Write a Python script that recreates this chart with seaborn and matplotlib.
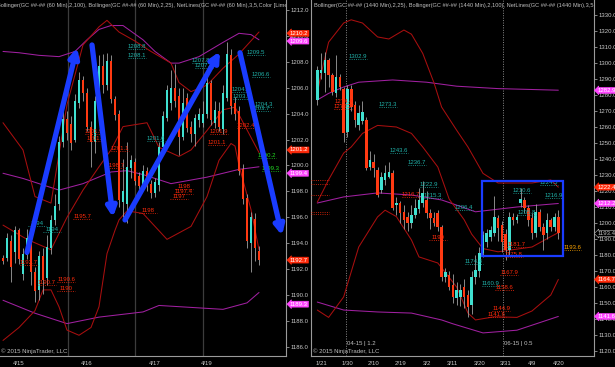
import matplotlib
matplotlib.use("Agg")
import matplotlib.pyplot as plt
from matplotlib.patches import Rectangle
import matplotlib.transforms as mtransforms
import seaborn as sns
import numpy as np

# ---------------- data: 60 min chart (left) ----------------
l_open = [1192.9, 1192.9, 1194.2, 1193.3, 1195.0, 1191.6, 1193.1, 1194.3, 1191.8, 1190.4,
          1193.0, 1191.3, 1193.6, 1195.8, 1197.0, 1201.8, 1203.6, 1203.2, 1202.0, 1204.8,
          1206.6, 1205.6, 1203.0, 1201.8, 1204.8, 1207.7, 1206.2, 1208.1, 1205.1, 1204.0,
          1197.2, 1197.0, 1199.8, 1200.3, 1199.2, 1198.5, 1199.6, 1198.6, 1197.9, 1198.5,
          1201.4, 1203.7, 1204.8, 1206.0, 1205.4, 1202.2, 1205.2, 1203.0, 1202.4, 1203.5,
          1203.3, 1204.0, 1206.4, 1203.3, 1204.2, 1202.8, 1205.2, 1208.5, 1204.8, 1204.2,
          1199.7, 1197.5, 1194.0, 1195.9, 1193.4]
l_high = [1193.1, 1194.8, 1194.6, 1195.3, 1195.2, 1193.6, 1195.1, 1194.6, 1192.2, 1193.4,
          1193.6, 1194.6, 1196.2, 1197.8, 1202.3, 1205.0, 1204.2, 1203.8, 1205.5, 1207.2,
          1206.9, 1206.0, 1203.4, 1205.4, 1208.5, 1208.6, 1208.7, 1208.5, 1205.4, 1204.3,
          1200.5, 1201.8, 1200.8, 1200.6, 1199.5, 1200.0, 1199.9, 1198.9, 1199.0, 1201.8,
          1204.2, 1206.2, 1207.4, 1207.8, 1206.0, 1206.0, 1205.6, 1203.4, 1204.0, 1204.4,
          1205.0, 1206.8, 1206.6, 1205.0, 1204.9, 1206.2, 1209.5, 1209.0, 1205.3, 1204.6,
          1200.1, 1197.8, 1196.4, 1196.3, 1193.8]
l_low = [1192.4, 1192.6, 1191.0, 1192.5, 1192.4, 1191.2, 1192.8, 1190.8, 1189.5, 1189.6,
         1190.1, 1190.8, 1193.2, 1195.4, 1196.6, 1201.4, 1202.0, 1201.2, 1201.8, 1204.4,
         1205.0, 1202.7, 1199.9, 1201.0, 1204.5, 1205.6, 1205.8, 1204.8, 1203.5, 1196.8,
         1196.0, 1195.6, 1199.0, 1198.5, 1198.0, 1198.2, 1198.0, 1197.5, 1197.6, 1198.0,
         1201.0, 1203.4, 1204.3, 1204.5, 1200.8, 1202.0, 1202.6, 1201.8, 1201.5, 1203.0,
         1203.0, 1203.7, 1203.1, 1202.9, 1202.7, 1202.4, 1205.0, 1204.0, 1203.5, 1199.3,
         1197.0, 1193.6, 1191.8, 1192.6, 1192.3]
l_close = [1192.6, 1194.4, 1192.2, 1195.0, 1192.8, 1193.2, 1194.4, 1191.8, 1190.3, 1193.0,
           1191.2, 1193.7, 1195.8, 1196.9, 1201.8, 1203.6, 1202.5, 1201.7, 1205.0, 1206.6,
           1205.6, 1203.0, 1201.8, 1205.0, 1207.7, 1206.2, 1208.1, 1205.1, 1203.9, 1197.3,
           1198.0, 1199.9, 1200.4, 1198.8, 1198.4, 1199.6, 1198.4, 1197.9, 1198.7, 1201.4,
           1203.8, 1205.8, 1206.0, 1205.0, 1202.2, 1204.8, 1202.9, 1202.4, 1203.7, 1204.0,
           1204.0, 1206.4, 1203.5, 1204.3, 1203.0, 1205.6, 1208.6, 1204.6, 1204.0, 1199.6,
           1197.4, 1194.2, 1196.0, 1193.6, 1192.7]

# bollinger lines, sampled at bar numbers
l_bb25_up_x = [0, 5, 8, 12, 16, 20, 24, 26, 29, 33, 37, 42, 44, 47, 51, 55, 59, 64]
l_bb25_up = [1203.3, 1201.2, 1197.6, 1197.1, 1204.7, 1209.3, 1210.7, 1211.2, 1210.3, 1209.6,
             1208.8, 1207.9, 1206.4, 1205.7, 1206.2, 1207.5, 1208.6, 1210.3]
l_bb25_mid_x = [0, 6, 12, 16, 20, 24, 27, 30, 36, 39, 44, 47, 51, 55, 58, 64]
l_bb25_mid = [1195.4, 1194.3, 1193.5, 1196.0, 1198.1, 1199.9, 1201.2, 1203.0, 1203.3, 1201.4,
              1200.7, 1201.2, 1202.7, 1204.3, 1204.5, 1201.0]
l_bb25_lo_x = [0, 4, 8, 10, 12, 14, 16, 19, 22, 24, 26, 28, 29, 31, 35, 41, 47, 51, 54, 57, 58, 59, 62, 64]
l_bb25_lo = [1186.5, 1187.5, 1188.8, 1190.4, 1190.4, 1189.1, 1187.3, 1186.9, 1187.5, 1189.1,
             1193.2, 1195.0, 1195.8, 1196.5, 1196.3, 1194.3, 1195.3, 1197.6, 1200.4, 1201.7,
             1201.5, 1200.0, 1196.6, 1193.5]
l_bb100_up_x = [0, 4, 9, 14, 18, 21, 24, 27, 30, 35, 38, 42, 44, 49, 55, 59, 62, 64]
l_bb100_up = [1208.8, 1208.7, 1208.5, 1208.4, 1208.8, 1209.7, 1210.5, 1210.8, 1210.8, 1209.7,
              1208.8, 1207.9, 1207.9, 1208.4, 1209.5, 1210.2, 1210.1, 1209.7]
l_bb100_mid_x = [0, 5, 14, 20, 27, 31, 35, 42, 51, 59, 64]
l_bb100_mid = [1199.4, 1199.0, 1198.1, 1198.6, 1199.5, 1199.6, 1199.3, 1198.6, 1199.1, 1199.7, 1199.9]
l_bb100_lo_x = [0, 8, 16, 24, 35, 39, 55, 61, 64]
l_bb100_lo = [1189.6, 1188.6, 1187.8, 1188.3, 1188.7, 1189.2, 1188.9, 1189.4, 1190.2]

l_date_pos = [4, 21, 38, 51]
l_date_lbl = ["4/15", "4/16", "4/17", "4/19"]
l_sessions = [16.25, 33, 50]

# netline labels: bar, price, text
l_cyan_lbl = [(31.25, 1209.0, "1208.8"), (31.25, 1208.3, "1208.1"), (6.25, 1195.3, "1194"),
              (10, 1194.9, "1194"), (36, 1201.9, "1201.6"), (47.25, 1207.9, "1207.8"),
              (48, 1207.5, "1207.4"), (57.25, 1205.7, "1204.4"), (57.5, 1205.1, "1203.9"),
              (61, 1208.5, "1209.5"), (62.25, 1206.8, "1206.6"), (63, 1204.5, "1204.3"),
              (62.25, 1204.2, "1203.7")]
l_red_lbl = [(20.5, 1202.4, "1201.9"), (21, 1201.9, "1201.1"), (27, 1201.1, "1201.1"),
             (26, 1199.8, "1198.7"), (17.5, 1195.9, "1195.7"), (4.25, 1192.3, "1192.7"),
             (8.75, 1190.8, "1190.7"), (13.5, 1191.0, "1190.6"), (13.5, 1190.3, "1190"),
             (34, 1196.3, "1198"), (43, 1198.2, "1198"), (43, 1197.8, "1197.4"),
             (41.75, 1197.4, "1197"), (51.75, 1202.4, "1201.9"), (51.25, 1201.6, "1201.1"),
             (58.5, 1202.9, "1202.4")]
l_green_lbl = [(63.75, 1200.6, "1200.2"), (64.75, 1199.6, "1199.3")]

# trend arrows: (tail bar, tail price, head bar, head price)
l_arrows = [(6, 1193.3, 18.5, 1209.1), (22.25, 1209.3, 27.5, 1196.0),
            (30.5, 1195.8, 54.25, 1208.8), (59.25, 1208.7, 69.75, 1194.6)]

l_axis_lbl = [(1210.2, "#ff2a0a"), (1209.6, "#ff44ff"), (1201.2, "#ff2a0a"),
              (1199.4, "#ff44ff"), (1192.7, "#ff2a0a"), (1189.3, "#ff44ff")]

# ---------------- data: 1440 min chart (right) ----------------
r_open = [1276.9, 1293.5, 1293.5, 1301.9, 1292.5, 1281.0, 1291.5, 1283.5, 1257.0, 1284.0,
          1273.7, 1261.0, 1264.0, 1264.4, 1235.1, 1238.3, 1233.1, 1220.6, 1227.0, 1229.0,
          1231.0, 1211.4, 1212.3, 1207.0, 1204.0, 1199.8, 1205.0, 1209.0, 1212.6, 1214.4,
          1206.4, 1203.0, 1206.0, 1197.7, 1166.5, 1167.5, 1161.0, 1153.0, 1153.8, 1160.2,
          1155.0, 1148.8, 1166.5, 1170.0, 1181.0, 1188.3, 1191.5, 1193.7, 1203.0, 1198.8,
          1193.0, 1183.0, 1204.0, 1201.9, 1212.7, 1214.4, 1209.2, 1203.0, 1193.5, 1207.1,
          1197.7, 1193.5, 1201.9, 1197.7, 1204.0]
r_high = [1298, 1306, 1306.7, 1303, 1294, 1305, 1293, 1285, 1286, 1286,
          1276, 1274, 1276, 1266, 1245, 1243, 1235, 1232, 1236, 1238,
          1233, 1216, 1214, 1211, 1207, 1211, 1215, 1222, 1226, 1220,
          1209, 1207, 1208, 1199, 1172, 1170, 1168, 1163, 1162, 1165,
          1158, 1170, 1180, 1185, 1195, 1196, 1198, 1217, 1205, 1201,
          1196, 1207, 1206, 1205.5, 1222, 1216, 1211, 1206, 1212, 1209,
          1200, 1206, 1203, 1206, 1208]
r_low = [1274, 1290, 1282, 1285, 1280, 1279, 1283, 1250.8, 1254, 1270,
         1260, 1258, 1262, 1233, 1233, 1229, 1216, 1219, 1224, 1228,
         1208, 1205, 1200, 1196, 1195, 1197, 1203, 1206, 1210, 1203,
         1196, 1198, 1195, 1164, 1163, 1158, 1150, 1149, 1148, 1147,
         1141, 1143, 1162, 1166, 1179, 1185, 1189, 1192, 1189, 1182,
         1177, 1180, 1199, 1200, 1210, 1206, 1198, 1190, 1191, 1195,
         1183, 1190, 1195, 1195, 1190]
r_close = [1295.6, 1295.6, 1301.9, 1292.5, 1282.1, 1291.5, 1285.2, 1256.0, 1284.0, 1272.7,
           1264.4, 1269.0, 1269.5, 1234.2, 1239.4, 1234.2, 1217.5, 1229.0, 1231.0, 1232.1,
           1209.2, 1212.4, 1206.0, 1201.9, 1199.8, 1205.0, 1209.2, 1214.4, 1218.5, 1206.0,
           1202.9, 1199.8, 1197.7, 1166.5, 1169.6, 1160.2, 1154.0, 1158.0, 1158.3, 1154.0,
           1147.7, 1166.5, 1170.6, 1181.0, 1192.5, 1193.5, 1195.6, 1204.0, 1196.7, 1188.3,
           1183.0, 1204.0, 1201.9, 1203.5, 1214.8, 1209.2, 1201.9, 1193.5, 1207.1, 1197.7,
           1192.5, 1201.9, 1197.7, 1204.0, 1193.5]

r_bb25_up_x = [0, 1, 3, 7, 9, 12, 16, 19, 23, 25, 28, 31, 33, 37, 40, 44, 48, 57, 62, 64]
r_bb25_up = [1281, 1293, 1313, 1325, 1327, 1325, 1316.3, 1315, 1320.6, 1318, 1306, 1287.5,
             1272.5, 1258, 1247.5, 1231, 1225, 1225, 1226.9, 1222.4]
r_bb25_mid_x = [0, 3, 7, 9, 12, 16, 21, 25, 28, 32, 35, 39, 41, 44, 48, 57, 62, 64]
r_bb25_mid = [1213, 1227, 1243.7, 1247.5, 1256, 1261, 1260, 1256, 1247.5, 1235, 1215, 1202,
              1193, 1184, 1182, 1185, 1191.5, 1194]
r_bb25_lo_x = [0, 3, 7, 11, 16, 18, 21, 25, 27, 32, 37, 40, 42, 47, 53, 57, 62, 64]
r_bb25_lo = [1145.6, 1141, 1153.8, 1185, 1203.8, 1208, 1204, 1189.4, 1178.8, 1175, 1160,
             1143.7, 1139.4, 1141.4, 1141, 1145, 1155, 1164.7]
r_bb100_up_x = [0, 3, 7, 11, 20, 29, 37, 48, 64]
r_bb100_up = [1276.9, 1281, 1285, 1288, 1289.4, 1288, 1285.5, 1284, 1283]
r_bb100_mid_x = [0, 7, 16, 25, 33, 36, 42, 53, 64]
r_bb100_mid = [1212.5, 1216.3, 1218.8, 1217.5, 1214.4, 1212, 1207, 1210, 1212.2]
r_bb100_lo_x = [0, 7, 16, 25, 33, 36, 44, 53, 64]
r_bb100_lo = [1150.6, 1145.6, 1144.4, 1143.7, 1139.4, 1137, 1131.3, 1133, 1141.6]

r_date_pos = [1, 8, 15, 22, 29, 36, 43, 50, 57, 64]
r_date_lbl = ["1/21", "1/30", "2/10", "2/19", "3/2", "3/11", "3/20", "3/31", "4/9", "4/20"]
r_rollover = [(7.6, "04-15 | 1.2"), (49.3, "06-15 | 0.5")]
r_left_ticks = [1226.9, 1224.4, 1217.5, 1206.9, 1205.6]

r_cyan_lbl = [(8.4, 1302.5, "1302.9"), (16.4, 1272.5, "1273.3"), (19.3, 1243.7, "1243.6"),
              (24.1, 1236.2, "1236.7"), (27.3, 1222.5, "1222.9"), (28.3, 1215.6, "1215.3"),
              (36.6, 1208.1, "1206.4"), (39.2, 1174.4, "1174.4"), (43.7, 1160.6, "1160.9"),
              (52, 1218.7, "1210.6"), (59.1, 1223.7, "1224.5"), (60.5, 1215.6, "1216.9"),
              (53.3, 1205.0, "1205.8")]
r_red_lbl = [(4.7, 1274.4, "1274.4"), (4.5, 1271.2, "1270.2"), (22.5, 1216.2, "1216.7"),
             (29.7, 1189.4, "1190"), (50.4, 1185.0, "1181.7"), (49.8, 1178.7, "1175.8"),
             (48.5, 1167.5, "1167.9"), (47.3, 1158.1, "1158.6"), (46.4, 1145.0, "1144.9"),
             (45.3, 1141.2, "1141.6")]
r_orange_lbl = [(65.3, 1183.1, "1193.6")]
r_box = (43.7, 1179.4, 65.2, 1226.2)

r_axis_lbl = [(1282.9, "#ff44ff"), (1222.4, "#ff2a0a"), (1212.2, "#ff44ff"),
              (1193.4, "none"), (1164.7, "#ff2a0a"), (1141.6, "#ff44ff")]

# ---------------- style ----------------
sns.set_style("dark", {"axes.facecolor": "black", "figure.facecolor": "black"})
plt.rcParams["font.family"] = ["Liberation Sans", "DejaVu Sans"]

UP = "#40e0d0"
DOWN = "#ff3a12"
WICK = "#a0a0a0"
BB25 = "#a80f0f"
BB100 = "#a020a0"
TEAL = "#20b2aa"
NETRED = "#ff2a0a"
ARROW = "#1a3cff"
GRID = "#9a9a9a"
FS = 4.3


def candles(ax, o, h, l, c, width):
    o, h, l, c = map(np.asarray, (o, h, l, c))
    idx = np.arange(len(o))
    cols = np.where(c >= o, UP, DOWN)
    ax.vlines(idx, l, h, color=WICK, lw=0.6, zorder=3)
    body = np.maximum(np.abs(c - o), 0.002 * (h.max() - l.min()))
    ax.bar(idx, body, bottom=np.minimum(o, c), width=width, color=cols, lw=0, zorder=4)


def band(ax, xs, ys, color):
    sns.lineplot(x=xs, y=ys, ax=ax, color=color, lw=0.75, legend=False, zorder=2)


def netlabels(ax, items, color, w):
    for x, p, t in items:
        ax.text(x + w / 2, p, t, color=color, fontsize=FS, ha="center", va="bottom", zorder=6)
        ax.hlines(p, x, x + w, color=color, lw=0.6, linestyles=":", zorder=6)


def axis_labels(ax, items, xoff):
    trans = mtransforms.blended_transform_factory(ax.transAxes, ax.transData)
    for p, col in items:
        fc, ec, tc = (col, col, "white") if col != "none" else ("black", "#c0c0c0", "#c0c0c0")
        ax.text(xoff, p, f"{p:.1f}", transform=trans, color=tc, fontsize=FS,
                va="center", ha="left", clip_on=False, zorder=10,
                bbox=dict(boxstyle="larrow,pad=0.08", fc=fc, ec=ec, lw=0.4))


def style_axes(ax):
    ax.set_facecolor("black")
    for s in ["top", "left"]:
        ax.spines[s].set_visible(False)
    for s in ["right", "bottom"]:
        ax.spines[s].set_color(GRID)
        ax.spines[s].set_linewidth(0.8)
    ax.yaxis.tick_right()
    ax.tick_params(axis="both", colors=GRID, labelcolor="#c8c8c8", labelsize=FS,
                   length=2, width=0.6, pad=1.5, direction="out")
    ax.grid(False)
    ax.set_xlabel("")
    ax.set_ylabel("")


fig = plt.figure(figsize=(6.15, 3.67), dpi=100)
fig.patch.set_facecolor("black")
axL = fig.add_axes([0 / 615, 11 / 367, 286 / 615, 356 / 367])
axR = fig.add_axes([311 / 615, 11 / 367, 283 / 615, 356 / 367])

# ---------------- left panel ----------------
for xs in l_sessions:
    axL.axvline(xs, color="#3c3c3c", lw=0.9, zorder=1)
band(axL, l_bb100_up_x, l_bb100_up, BB100)
band(axL, l_bb100_mid_x, l_bb100_mid, BB100)
band(axL, l_bb100_lo_x, l_bb100_lo, BB100)
band(axL, l_bb25_up_x, l_bb25_up, BB25)
band(axL, l_bb25_mid_x, l_bb25_mid, BB25)
band(axL, l_bb25_lo_x, l_bb25_lo, BB25)
candles(axL, l_open, l_high, l_low, l_close, 0.62)
netlabels(axL, l_cyan_lbl, TEAL, 4.5)
netlabels(axL, l_red_lbl, NETRED, 4.5)
netlabels(axL, l_green_lbl, "#22dd22", 4.5)
for x0, y0, x1, y1 in l_arrows:
    axL.annotate("", xy=(x1, y1), xytext=(x0, y0), zorder=8,
                 arrowprops=dict(arrowstyle="-|>", color=ARROW, lw=3.8,
                                 mutation_scale=14, shrinkA=0, shrinkB=0))
axL.set_xlim(-0.75, 70.75)
axL.set_ylim(1185.3, 1212.77)
axL.set_yticks(np.arange(1186, 1213, 2))
axL.set_yticklabels([f"{v:.1f}" for v in np.arange(1186, 1213, 2)])
axL.set_xticks(l_date_pos)
axL.set_xticklabels(l_date_lbl)
style_axes(axL)
axis_labels(axL, l_axis_lbl, 1.014)
axL.text(-0.012, 0.992, "Bollinger(GC ##-## (60 Min),2,100), Bollinger(GC ##-## (60 Min),2,25), "
         "NetLines(GC ##-## (60 Min),3,5,Color [Lime],Color [Red])",
         transform=axL.transAxes, color="#c0c0c0", fontsize=4.1, va="top", ha="left",
         clip_on=True, zorder=9)
axL.text(0.004, 0.006, "\u00a9 2015 NinjaTrader, LLC", transform=axL.transAxes,
         color="#c0c0c0", fontsize=FS, va="bottom", ha="left", zorder=9)

# ---------------- right panel ----------------
for xs, t in r_rollover:
    axR.axvline(xs, color="#8a8a8a", lw=0.7, ls=(0, (1, 1.5)), zorder=1)
    axR.text(xs + 0.3, 1124.4, t, color="#c0c0c0", fontsize=FS, va="center", ha="left", zorder=9)
axR.hlines(r_left_ticks, -1.6, 3.2, color=NETRED, lw=0.6, linestyles=":", zorder=5)
band(axR, r_bb100_up_x, r_bb100_up, BB100)
band(axR, r_bb100_mid_x, r_bb100_mid, BB100)
band(axR, r_bb100_lo_x, r_bb100_lo, BB100)
band(axR, r_bb25_up_x, r_bb25_up, BB25)
band(axR, r_bb25_mid_x, r_bb25_mid, BB25)
band(axR, r_bb25_lo_x, r_bb25_lo, BB25)
candles(axR, r_open, r_high, r_low, r_close, 0.7)
netlabels(axR, r_cyan_lbl, TEAL, 4.8)
netlabels(axR, r_red_lbl, NETRED, 4.8)
netlabels(axR, r_orange_lbl, "#ffa500", 4.8)
bx0, by0, bx1, by1 = r_box
axR.add_patch(Rectangle((bx0, by0), bx1 - bx0, by1 - by0, fill=False, ec=ARROW, lw=1.6, zorder=8))
axR.set_xlim(-1.67, 73.47)
axR.set_ylim(1116.875, 1339.375)
axR.set_yticks(np.arange(1120, 1331, 10))
axR.set_yticklabels([f"{v:.1f}" for v in np.arange(1120, 1331, 10)])
axR.set_xticks(r_date_pos)
axR.set_xticklabels(r_date_lbl)
axR.set_xticks(np.arange(0, 65, 1), minor=True)
style_axes(axR)
axR.spines["left"].set_visible(True)
axR.spines["left"].set_color(GRID)
axR.spines["left"].set_linewidth(0.8)
axR.tick_params(axis="x", which="minor", colors=GRID, length=1.5, width=0.5)
axis_labels(axR, r_axis_lbl, 1.012)
axR.text(0.01, 0.992, "Bollinger(GC ##-## (1440 Min),2,25), Bollinger(GC ##-## (1440 Min),2,100), "
         "NetLines(GC ##-## (1440 Min),3,5,Color [Lime],Color [Red])",
         transform=axR.transAxes, color="#c0c0c0", fontsize=4.1, va="top", ha="left",
         clip_on=True, zorder=9)
axR.text(0.008, 0.006, "\u00a9 2015 NinjaTrader, LLC", transform=axR.transAxes,
         color="#c0c0c0", fontsize=FS, va="bottom", ha="left", zorder=9)

fig.savefig("out.png", dpi=100, facecolor="black")
